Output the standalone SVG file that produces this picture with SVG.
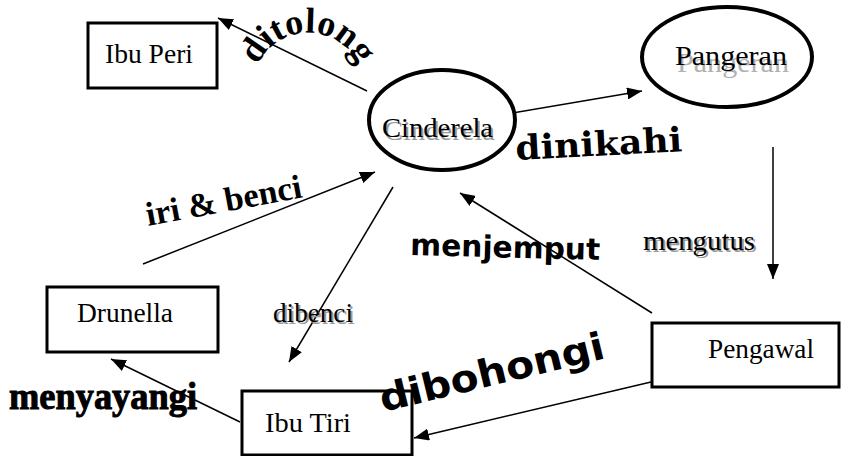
<svg xmlns="http://www.w3.org/2000/svg" xmlns:xlink="http://www.w3.org/1999/xlink" width="842" height="456" viewBox="0 0 842 456">
  <defs>
    <marker id="arrow" markerUnits="userSpaceOnUse" markerWidth="16" markerHeight="12" refX="15" refY="6" orient="auto">
      <path d="M0,0 L15,6 L0,12 z" fill="#000"/>
    </marker>
    <path id="arcDitolong" d="M 253.8 78.4 A 55 55 0 0 1 362.2 78.4" fill="none"/>
    <style>
      .box { fill: #fff; stroke: #000; stroke-width: 3; }
      .oval { fill: #fff; stroke: #000; stroke-width: 4; }
      .edge { stroke: #000; stroke-width: 1.5; fill: none; marker-end: url(#arrow); }
      .lbl { font-family: "Liberation Serif", "Times New Roman", serif; font-size: 27px; fill: #000; }
      .shadow { fill: #9a9a9a; }
      .ghost { fill: #b0b0b0; }
      .bserif { font-family: "Liberation Serif", "Times New Roman", serif; font-weight: bold; fill: #000; }
      .dserif { font-family: "DejaVu Serif", serif; font-weight: bold; fill: #000; }
      .bsans { font-family: "DejaVu Sans", "Verdana", sans-serif; font-weight: bold; fill: #000; }
    </style>
  </defs>

  <rect width="842" height="456" fill="#fff"/>

  <!-- connectors -->
  <g id="connectors">
    <line class="edge" x1="367" y1="91" x2="218" y2="18"/>
    <line class="edge" x1="507" y1="114" x2="642" y2="91"/>
    <line class="edge" x1="773" y1="147" x2="773" y2="279"/>
    <line class="edge" x1="652" y1="313" x2="460" y2="193"/>
    <line class="edge" x1="143" y1="264" x2="375" y2="172"/>
    <line class="edge" x1="393" y1="187" x2="289" y2="362"/>
    <line class="edge" x1="240" y1="422" x2="111" y2="359"/>
    <line class="edge" x1="651" y1="382" x2="414" y2="438"/>
  </g>

  <!-- nodes -->
  <g id="ibu-peri">
    <rect class="box" x="88" y="23" width="129" height="65" stroke-width="4"/>
    <text class="lbl" x="105" y="63" textLength="88" lengthAdjust="spacingAndGlyphs">Ibu Peri</text>
  </g>

  <g id="cinderela">
    <ellipse class="oval" cx="442" cy="120" rx="73" ry="50"/>
    <text class="lbl shadow" x="384" y="140" textLength="111" lengthAdjust="spacingAndGlyphs">Cinderela</text>
    <text class="lbl" x="382" y="137" textLength="111" lengthAdjust="spacingAndGlyphs">Cinderela</text>
  </g>

  <g id="pangeran">
    <ellipse class="oval" cx="727" cy="57" rx="85" ry="50"/>
    <text class="lbl ghost" x="677" y="72" textLength="112" lengthAdjust="spacingAndGlyphs">Pangeran</text>
    <text class="lbl" x="675" y="65" textLength="112" lengthAdjust="spacingAndGlyphs">Pangeran</text>
  </g>

  <g id="drunella">
    <rect class="box" x="47" y="287" width="171" height="65"/>
    <text class="lbl" x="77" y="322" textLength="96" lengthAdjust="spacingAndGlyphs">Drunella</text>
  </g>

  <g id="ibu-tiri">
    <rect class="box" x="242" y="391" width="170" height="64"/>
    <text class="lbl" x="265" y="432" textLength="86" lengthAdjust="spacingAndGlyphs">Ibu Tiri</text>
  </g>

  <g id="pengawal">
    <rect class="box" x="652" y="323" width="187" height="64"/>
    <text class="lbl" x="708" y="358" textLength="106" lengthAdjust="spacingAndGlyphs">Pengawal</text>
  </g>

  <!-- edge labels -->
  <g id="labels">
    <text class="bserif" font-size="36"><textPath xlink:href="#arcDitolong" href="#arcDitolong" startOffset="50%" text-anchor="middle">ditolong</textPath></text>

    <text class="dserif" font-size="34" x="516" y="160" textLength="167" lengthAdjust="spacingAndGlyphs" transform="rotate(-3 516 160)">dinikahi</text>

    <text class="bserif" font-size="34" x="148" y="226" textLength="158" lengthAdjust="spacingAndGlyphs" transform="rotate(-10.5 148 226)">iri &amp; benci</text>

    <text class="bsans" font-size="30" x="410" y="255" textLength="190" lengthAdjust="spacingAndGlyphs" transform="rotate(1.5 410 255)">menjemput</text>

    <text class="lbl shadow" x="645" y="252" textLength="112" lengthAdjust="spacingAndGlyphs">mengutus</text>
    <text class="lbl" x="643" y="250" textLength="112" lengthAdjust="spacingAndGlyphs">mengutus</text>

    <text class="lbl shadow" x="275" y="324" textLength="80" lengthAdjust="spacingAndGlyphs">dibenci</text>
    <text class="lbl" x="273" y="322" textLength="80" lengthAdjust="spacingAndGlyphs">dibenci</text>

    <text class="bserif" font-size="38" x="9" y="409" textLength="188" lengthAdjust="spacingAndGlyphs" stroke="#000" stroke-width="1">menyayangi</text>

    <text class="bsans" font-size="38" x="383" y="412" textLength="230" lengthAdjust="spacingAndGlyphs" transform="rotate(-13.6 383 412)">dibohongi</text>
  </g>
</svg>
